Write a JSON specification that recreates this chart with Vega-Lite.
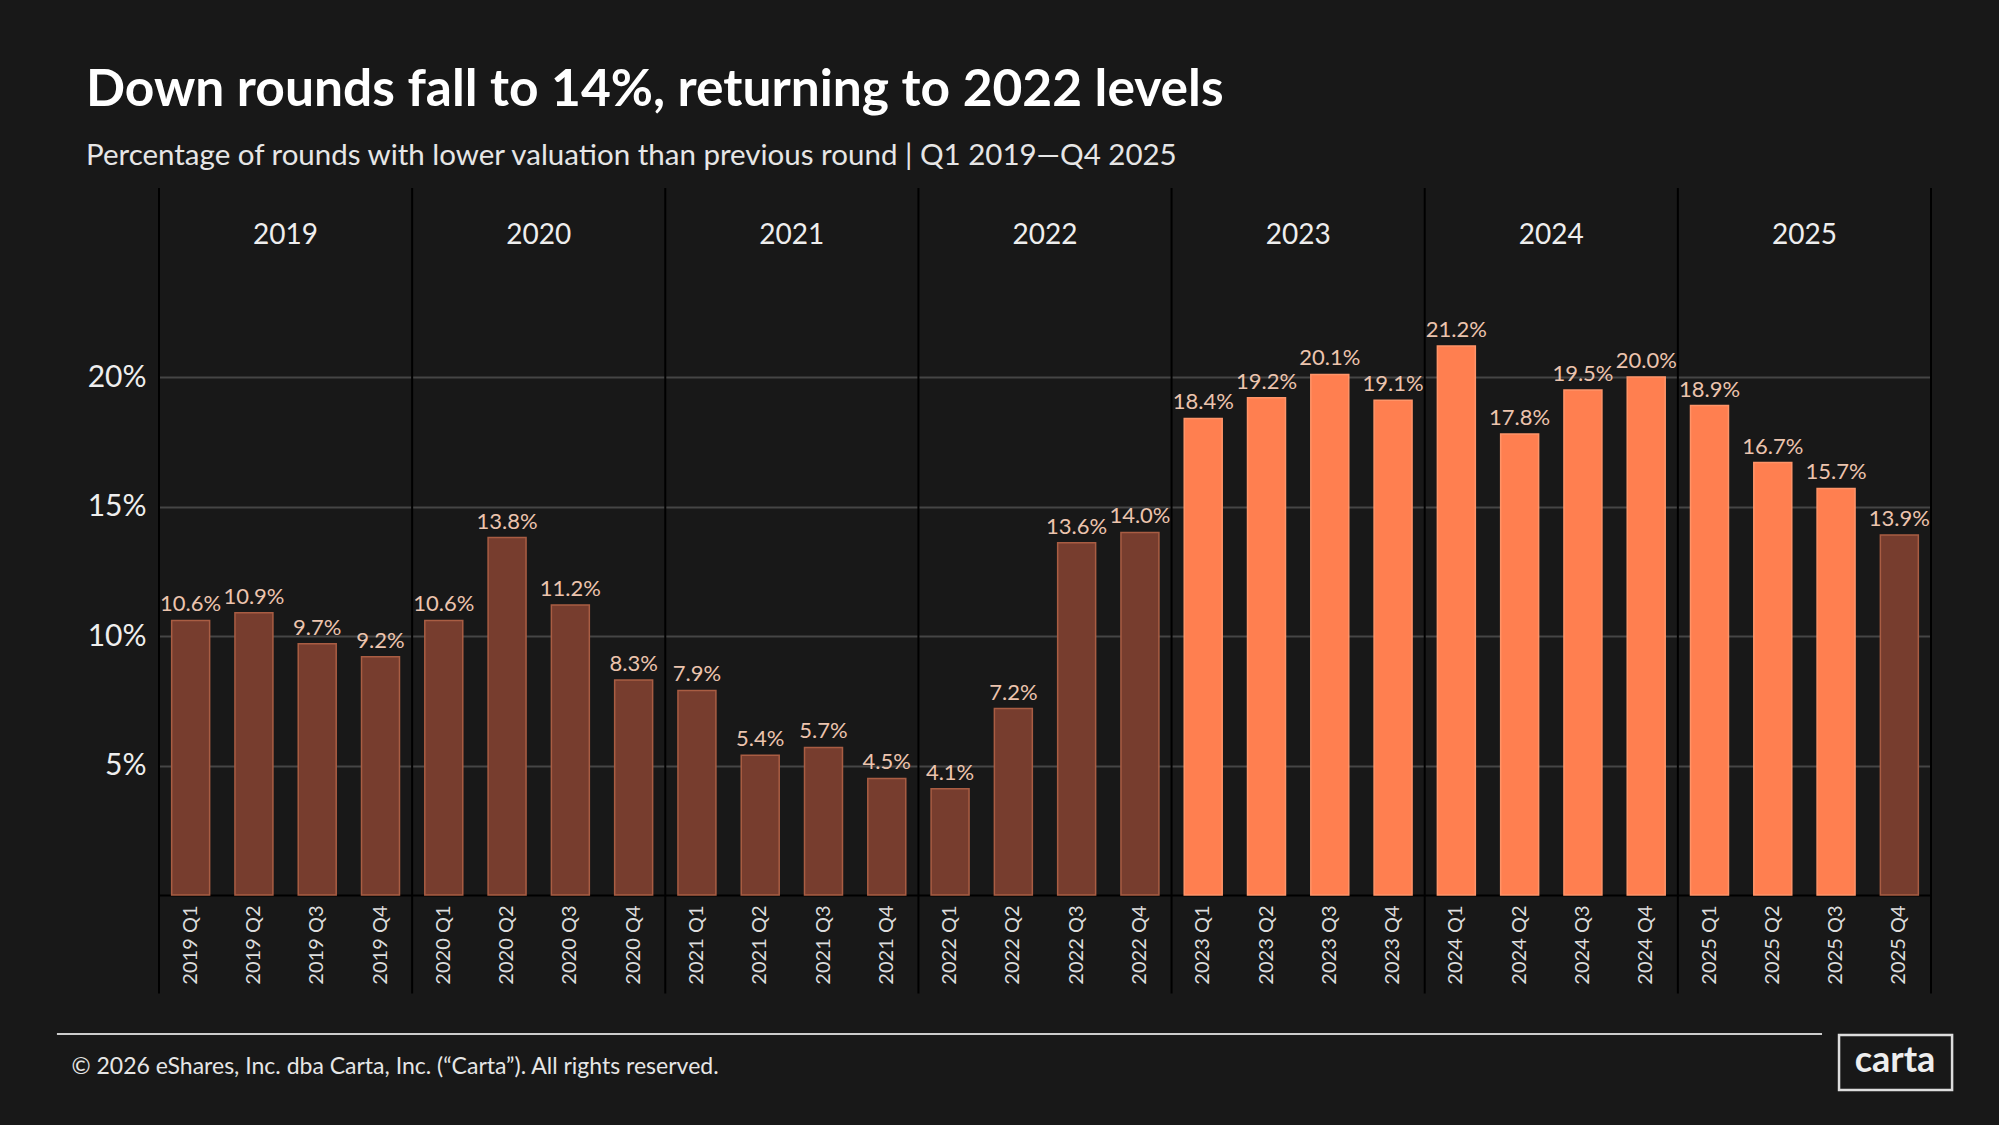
{
  "$schema": "https://vega.github.io/schema/vega-lite/v6.json",
  "width": 1772,
  "height": 707,
  "autosize": {"type": "none"},
  "padding": {"left": 159, "top": 188, "right": 68, "bottom": 230},
  "background": "#181818",
  "title": {
    "text": "Down rounds fall to 14%, returning to 2022 levels",
    "subtitle": "Percentage of rounds with lower valuation than previous round | Q1 2019—Q4 2025",
    "anchor": "start",
    "frame": "group",
    "dx": -73,
    "offset": 17,
    "font": "Lato",
    "fontSize": 51.5,
    "fontWeight": "bold",
    "color": "#ffffff",
    "subtitleFont": "Lato",
    "subtitleFontSize": 29.5,
    "subtitleColor": "#e6e6e6",
    "subtitlePadding": 25
  },
  "data": {
    "values": [
      {"q": "2019 Q1", "year": "2019", "qtr": "Q1", "pct": 0.106, "emphasis": "base"},
      {"q": "2019 Q2", "year": "2019", "qtr": "Q2", "pct": 0.109, "emphasis": "base"},
      {"q": "2019 Q3", "year": "2019", "qtr": "Q3", "pct": 0.097, "emphasis": "base"},
      {"q": "2019 Q4", "year": "2019", "qtr": "Q4", "pct": 0.092, "emphasis": "base"},
      {"q": "2020 Q1", "year": "2020", "qtr": "Q1", "pct": 0.106, "emphasis": "base"},
      {"q": "2020 Q2", "year": "2020", "qtr": "Q2", "pct": 0.138, "emphasis": "base"},
      {"q": "2020 Q3", "year": "2020", "qtr": "Q3", "pct": 0.112, "emphasis": "base"},
      {"q": "2020 Q4", "year": "2020", "qtr": "Q4", "pct": 0.083, "emphasis": "base"},
      {"q": "2021 Q1", "year": "2021", "qtr": "Q1", "pct": 0.079, "emphasis": "base"},
      {"q": "2021 Q2", "year": "2021", "qtr": "Q2", "pct": 0.054, "emphasis": "base"},
      {"q": "2021 Q3", "year": "2021", "qtr": "Q3", "pct": 0.057, "emphasis": "base"},
      {"q": "2021 Q4", "year": "2021", "qtr": "Q4", "pct": 0.045, "emphasis": "base"},
      {"q": "2022 Q1", "year": "2022", "qtr": "Q1", "pct": 0.041, "emphasis": "base"},
      {"q": "2022 Q2", "year": "2022", "qtr": "Q2", "pct": 0.072, "emphasis": "base"},
      {"q": "2022 Q3", "year": "2022", "qtr": "Q3", "pct": 0.136, "emphasis": "base"},
      {"q": "2022 Q4", "year": "2022", "qtr": "Q4", "pct": 0.140, "emphasis": "base"},
      {"q": "2023 Q1", "year": "2023", "qtr": "Q1", "pct": 0.184, "emphasis": "high"},
      {"q": "2023 Q2", "year": "2023", "qtr": "Q2", "pct": 0.192, "emphasis": "high"},
      {"q": "2023 Q3", "year": "2023", "qtr": "Q3", "pct": 0.201, "emphasis": "high"},
      {"q": "2023 Q4", "year": "2023", "qtr": "Q4", "pct": 0.191, "emphasis": "high"},
      {"q": "2024 Q1", "year": "2024", "qtr": "Q1", "pct": 0.212, "emphasis": "high"},
      {"q": "2024 Q2", "year": "2024", "qtr": "Q2", "pct": 0.178, "emphasis": "high"},
      {"q": "2024 Q3", "year": "2024", "qtr": "Q3", "pct": 0.195, "emphasis": "high"},
      {"q": "2024 Q4", "year": "2024", "qtr": "Q4", "pct": 0.200, "emphasis": "high"},
      {"q": "2025 Q1", "year": "2025", "qtr": "Q1", "pct": 0.189, "emphasis": "high"},
      {"q": "2025 Q2", "year": "2025", "qtr": "Q2", "pct": 0.167, "emphasis": "high"},
      {"q": "2025 Q3", "year": "2025", "qtr": "Q3", "pct": 0.157, "emphasis": "high"},
      {"q": "2025 Q4", "year": "2025", "qtr": "Q4", "pct": 0.139, "emphasis": "base"}
    ]
  },
  "layer": [
    {
      "encoding": {
        "x": {
          "field": "q",
          "type": "nominal",
          "sort": null,
          "scale": {"paddingInner": 0, "paddingOuter": 0},
          "axis": {
            "labelAngle": -90,
            "labelFont": "Lato",
            "labelFontSize": 20,
            "labelColor": "#dddddd",
            "labelPadding": 10,
            "ticks": false,
            "domain": true,
            "domainColor": "#000000",
            "domainWidth": 2,
            "grid": false,
            "title": "© 2026 eShares, Inc. dba Carta, Inc. (“Carta”). All rights reserved.",
            "titleFont": "Lato",
            "titleFontSize": 23,
            "titleFontWeight": "normal",
            "titleColor": "#e6e6e6",
            "titleAlign": "left",
            "titleAnchor": "start",
            "titleBaseline": "alphabetic",
            "titleX": -88,
            "titleY": 178
          }
        }
      },
      "layer": [
        {
          "mark": {"type": "bar", "width": {"band": 0.6}, "strokeWidth": 1.5},
          "encoding": {
            "y": {
              "field": "pct",
              "type": "quantitative",
              "scale": {"domain": [0, 0.273], "nice": false, "zero": true},
              "axis": {
                "values": [0.05, 0.1, 0.15, 0.2],
                "format": ".0%",
                "labelFont": "Lato",
                "labelFontSize": 30,
                "labelColor": "#eeeeee",
                "labelPadding": 13,
                "ticks": false,
                "domain": false,
                "grid": true,
                "gridColor": "#454545",
                "gridWidth": 2,
                "title": null
              }
            },
            "color": {
              "field": "emphasis",
              "type": "nominal",
              "scale": {"domain": ["base", "high"], "range": ["#773d2e", "#ff7f50"]},
              "legend": null
            },
            "stroke": {
              "field": "emphasis",
              "type": "nominal",
              "scale": {"domain": ["base", "high"], "range": ["#a95d43", "#ff9468"]},
              "legend": null
            }
          }
        },
        {
          "mark": {"type": "text", "font": "Lato", "fontSize": 22, "color": "#ecc4ae", "baseline": "alphabetic", "dy": -9},
          "encoding": {
            "y": {"field": "pct", "type": "quantitative"},
            "text": {"field": "pct", "type": "quantitative", "format": ".1%"}
          }
        },
        {
          "transform": [{"filter": "datum.qtr == 'Q1'"}],
          "mark": {"type": "rule", "color": "#000000", "strokeWidth": 2},
          "encoding": {
            "x": {"field": "q", "type": "nominal", "sort": null, "bandPosition": 0},
            "y": {"datum": 0.273},
            "y2": {"datum": -0.038}
          }
        },
        {
          "transform": [{"filter": "datum.q == '2025 Q4'"}],
          "mark": {"type": "rule", "color": "#000000", "strokeWidth": 2},
          "encoding": {
            "x": {"field": "q", "type": "nominal", "sort": null, "bandPosition": 1},
            "y": {"datum": 0.273},
            "y2": {"datum": -0.038}
          }
        },
        {
          "transform": [{"filter": "datum.qtr == 'Q2'"}],
          "mark": {"type": "text", "font": "Lato", "fontSize": 28, "color": "#eeeeee", "baseline": "middle", "align": "center"},
          "encoding": {
            "x": {"field": "q", "type": "nominal", "sort": null, "bandPosition": 1},
            "y": {"datum": 0.2546},
            "text": {"field": "year", "type": "nominal"}
          }
        }
      ]
    },
    {
      "data": {"values": [{"logo": "carta"}]},
      "layer": [
        {
          "mark": {"type": "rule", "color": "#cccccc", "strokeWidth": 2},
          "encoding": {
            "x": {"datum": -5.76, "type": "quantitative", "scale": {"domain": [0, 100], "nice": false, "zero": false}, "axis": null},
            "x2": {"datum": 93.85},
            "y": {"datum": -0.0537}
          }
        },
        {
          "mark": {"type": "rect", "fill": "transparent", "stroke": "#dddddd", "strokeWidth": 2.5},
          "encoding": {
            "x": {"datum": 94.81, "type": "quantitative", "axis": null},
            "x2": {"datum": 101.19},
            "y": {"datum": -0.0541},
            "y2": {"datum": -0.0753}
          }
        },
        {
          "mark": {"type": "text", "font": "Lato", "fontSize": 36, "fontWeight": "bold", "color": "#eeeeee", "align": "center", "baseline": "alphabetic"},
          "encoding": {
            "x": {"datum": 97.97, "type": "quantitative", "axis": null},
            "y": {"datum": -0.0683},
            "text": {"field": "logo", "type": "nominal"}
          }
        }
      ]
    }
  ],
  "resolve": {"scale": {"x": "independent"}},
  "config": {
    "view": {"stroke": null},
    "font": "Lato"
  }
}
